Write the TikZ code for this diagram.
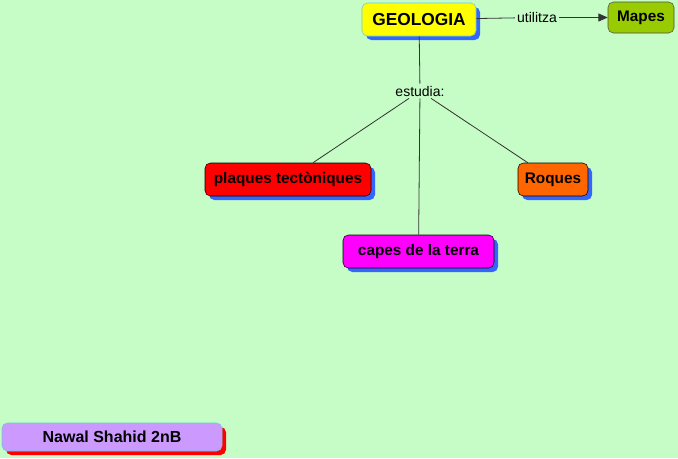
\documentclass[tikz,border=0pt]{standalone}
\usepackage{fontspec}
\setmainfont{Liberation Sans}
\usetikzlibrary{shadows,arrows.meta}

\definecolor{fons}{RGB}{198,252,198}
\definecolor{groc}{RGB}{255,255,0}
\definecolor{verdoliva}{RGB}{153,204,0}
\definecolor{vermell}{RGB}{255,0,0}
\definecolor{taronja}{RGB}{255,102,0}
\definecolor{magenta}{RGB}{255,0,255}
\definecolor{lila}{RGB}{204,153,255}
\definecolor{ombrablava}{RGB}{51,102,255}
\definecolor{vorablava}{RGB}{102,204,221}

\tikzset{
  concepte/.style={draw=black, rounded corners=4pt, inner sep=0pt,
    minimum height=24.75pt, font=\fontsize{11.5}{13}\selectfont\bfseries},
  ombra/.style={drop shadow={shadow xshift=3pt, shadow yshift=-3pt,
    fill=#1, opacity=1}},
  enllac/.style={inner sep=1.5pt, font=\fontsize{10.5}{12}\selectfont},
  linia/.style={draw=black!80, line width=0.6pt}
}

\begin{document}
\begin{tikzpicture}[x=0.75pt, y=-0.75pt]
        \fill[fons] (0, 0) rectangle (678, 458);
        \useasboundingbox (0, 0) rectangle (678, 458);

        % conceptes
        \node[concepte, ombra=ombrablava, fill=groc, draw=vorablava, minimum width=85.5pt,
          font=\fontsize{13}{15}\selectfont\bfseries] (geologia) at (419, 19.5) {GEOLOGIA};
        \node[concepte, fill=verdoliva, draw=black!70, minimum width=49.5pt, minimum height=23.25pt] (mapes) at (641, 17.5) {Mapes};
        \node[concepte, ombra=ombrablava, fill=vermell, minimum width=124.5pt] (plaques) at (288, 179.5) {plaques tectòniques};
        \node[concepte, ombra=ombrablava, fill=taronja, minimum width=52.5pt] (roques) at (553, 179.5) {Roques};
        \node[concepte, ombra=ombrablava, fill=magenta, minimum width=113.25pt] (capes) at (418.5, 251.5) {capes de la terra};
        \node[concepte, ombra=vermell, fill=lila, draw=vorablava, minimum width=165pt, minimum height=21pt,
          font=\fontsize{12}{14}\selectfont\bfseries] (autor) at (112, 437) {Nawal Shahid 2nB};

        % paraules d'enllac
        \node[enllac] (utilitza) at (537, 17.5) {utilitza};
        \node[enllac] (estudia) at (420, 91) {estudia:};

        % connexions
        \draw[linia] (geologia) -- (utilitza);
        \draw[linia, -{Triangle[length=7pt, width=6pt]}] (utilitza) -- (mapes);
        \draw[linia] (geologia) -- (estudia);
        \draw[linia] (estudia) -- (plaques);
        \draw[linia] (estudia) -- (capes);
        \draw[linia] (estudia) -- (roques);
    \end{tikzpicture}
\end{document}
